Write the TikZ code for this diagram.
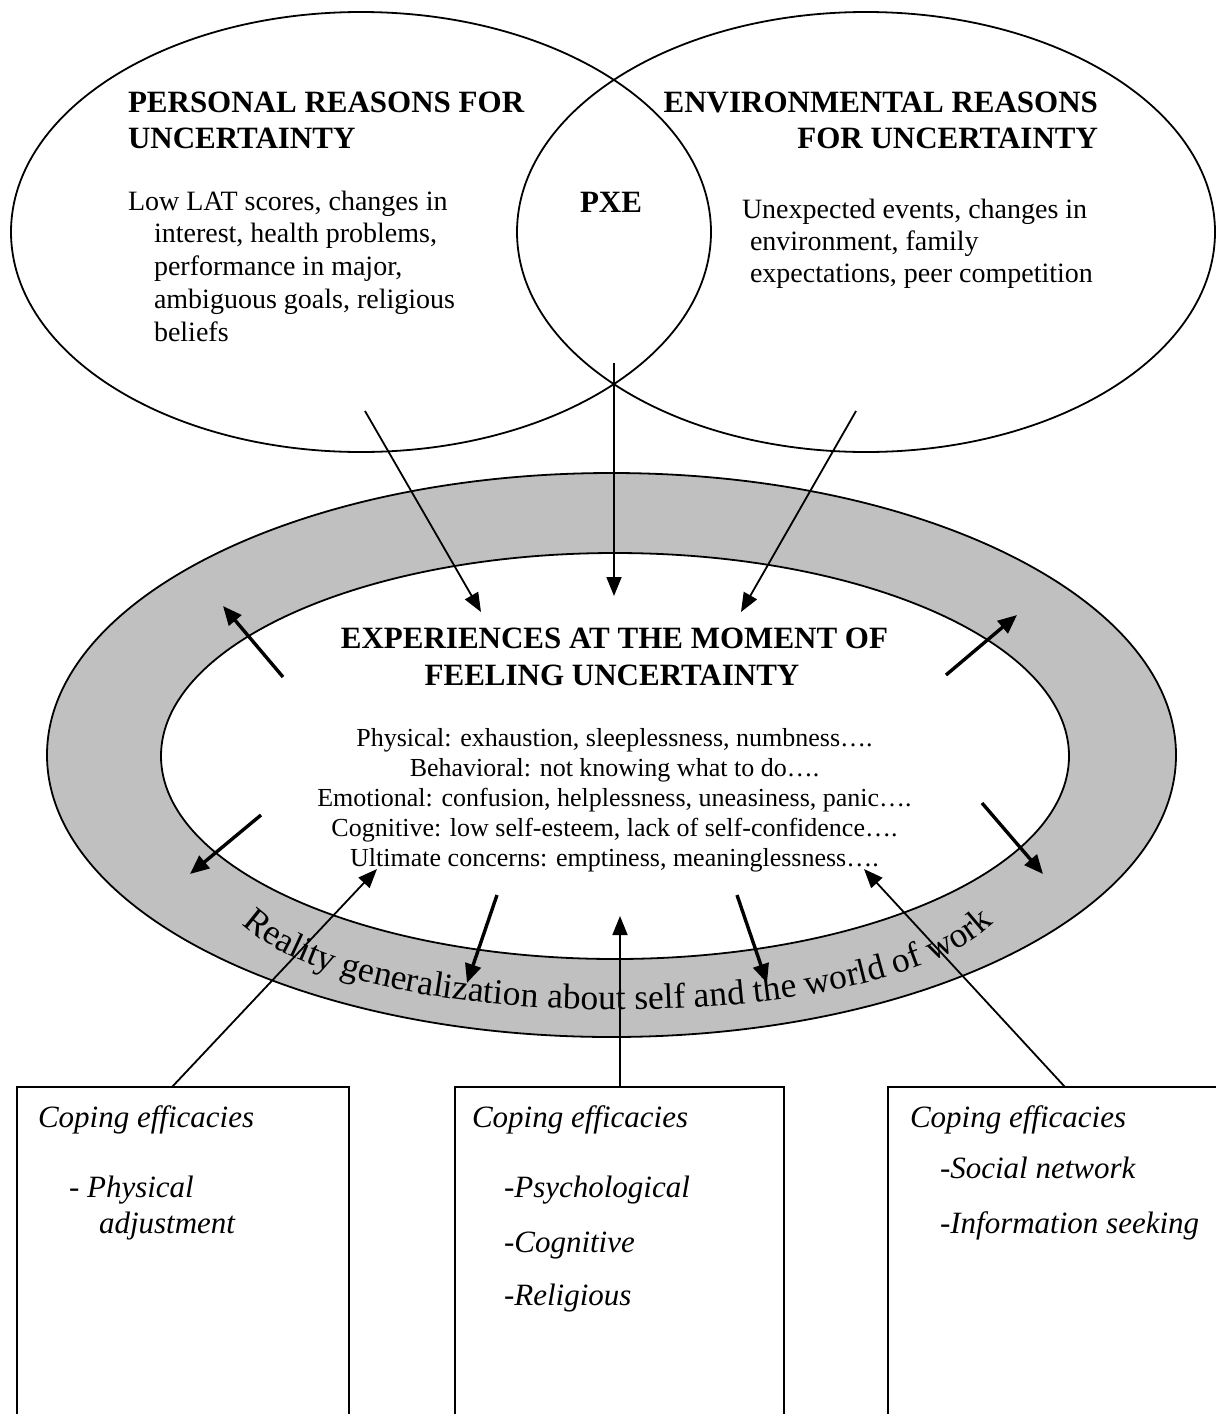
\documentclass[tikz,border=0pt]{standalone}
\usepackage{fontspec}
\setmainfont{Liberation Serif}
\usetikzlibrary{arrows.meta,decorations.text}
\definecolor{ringgray}{RGB}{192,192,192}
\newcommand\ttlfont{\fontsize{31}{35}\selectfont\bfseries}
\newcommand\bodyfont{\fontsize{28}{32}\selectfont}
\newcommand\cbodyfont{\fontsize{26}{30}\selectfont}
\newcommand\itfont{\fontsize{31}{35}\selectfont\itshape}
\newcommand\curvefont{\fontsize{35.5}{35.5}\selectfont}
\begin{document}
\begin{tikzpicture}[x=1pt,y=-1pt,
  txt/.style={inner sep=0pt,outer sep=0pt},
  outl/.style={line width=1.8pt},
  arr/.style={-{Triangle[length=19pt,width=15pt]},line width=1.8pt},
  thickarr/.style={-{Triangle[length=19pt,width=16pt]},line width=3.4pt},
  boxline/.style={line width=1.8pt}]
\useasboundingbox (0,0) rectangle (1216,1414);
\clip (0,0) rectangle (1216,1414);

% ring
\fill[ringgray,even odd rule] (611.5,755) ellipse [x radius=564.5pt,y radius=282pt]
  (615,756) ellipse [x radius=454pt,y radius=203pt];
\draw[outl] (611.5,755) ellipse [x radius=564.5pt,y radius=282pt];
\draw[outl] (615,756) ellipse [x radius=454pt,y radius=203pt];

% curved text
\coordinate (cs) at (243,925);
\coordinate (c1) at (363,1038);
\coordinate (c2) at (872,1038);
\coordinate (ce) at (992,925);
\path[decorate,decoration={text along path,text align=center,
  text={|\curvefont|Reality generalization about self and the world of work}}]
  (cs) .. controls (c1) and (c2) .. (ce);

% top ellipses
\draw[outl] (361,232) ellipse [x radius=350pt,y radius=220pt];
\draw[outl] (866,232) ellipse [x radius=349pt,y radius=220pt];

% left ellipse text
\node[txt,anchor=base west] (pt1) at (128,112) {\ttlfont PERSONAL REASONS FOR};
\node[txt,anchor=base west] (pt2) at (128,148) {\ttlfont UNCERTAINTY};
\node[txt,anchor=base west] (pb1) at (128,210) {\bodyfont Low LAT scores, changes in};
\node[txt,anchor=base west] (pb2) at (154,242) {\bodyfont interest, health problems,};
\node[txt,anchor=base west] (pb3) at (154,275) {\bodyfont performance in major,};
\node[txt,anchor=base west] (pb4) at (154,308) {\bodyfont ambiguous goals, religious};
\node[txt,anchor=base west] (pb5) at (154,341) {\bodyfont beliefs};

% PXE
\node[txt,anchor=base west] (pxe) at (580,212) {\ttlfont PXE};

% right ellipse text
\node[txt,anchor=base east] (et1) at (1098,112) {\ttlfont ENVIRONMENTAL REASONS};
\node[txt,anchor=base east] (et2) at (1098,148) {\ttlfont FOR UNCERTAINTY};
\node[txt,anchor=base west] (eb1) at (742,218) {\bodyfont Unexpected events, changes in};
\node[txt,anchor=base west] (eb2) at (750,250) {\bodyfont environment, family};
\node[txt,anchor=base west] (eb3) at (750,282) {\bodyfont expectations, peer competition};

% center text
\node[txt,anchor=base] (ct1) at (614.5,648) {\ttlfont EXPERIENCES AT THE MOMENT OF};
\node[txt,anchor=base] (ct2) at (612,685) {\ttlfont FEELING UNCERTAINTY};
\node[txt,anchor=base] (cb1) at (614.5,746) {\cbodyfont Physical: exhaustion, sleeplessness, numbness….};
\node[txt,anchor=base] (cb2) at (614.5,776) {\cbodyfont Behavioral: not knowing what to do….};
\node[txt,anchor=base] (cb3) at (614.5,806) {\cbodyfont Emotional: confusion, helplessness, uneasiness, panic….};
\node[txt,anchor=base] (cb4) at (614.5,836) {\cbodyfont Cognitive: low self-esteem, lack of self-confidence….};
\node[txt,anchor=base] (cb5) at (614.5,866) {\cbodyfont Ultimate concerns: emptiness, meaninglessness….};

% boxes
\draw[boxline] (17,1414) -- (17,1087) -- (349,1087) -- (349,1414);
\draw[boxline] (455,1414) -- (455,1087) -- (784,1087) -- (784,1414);
\draw[boxline] (888,1414) -- (888,1087) -- (1216,1087);

\node[txt,anchor=base west] (l1) at (38,1127) {\itfont Coping efficacies};
\node[txt,anchor=base west] (l2) at (69,1197) {\itfont - Physical};
\node[txt,anchor=base west] (l3) at (99,1233) {\itfont adjustment};
\node[txt,anchor=base west] (m1) at (472,1127) {\itfont Coping efficacies};
\node[txt,anchor=base west] (m2) at (504,1197) {\itfont -Psychological};
\node[txt,anchor=base west] (m3) at (504,1252) {\itfont -Cognitive};
\node[txt,anchor=base west] (m4) at (504,1305) {\itfont -Religious};
\node[txt,anchor=base west] (r1) at (910,1127) {\itfont Coping efficacies};
\node[txt,anchor=base west] (r2) at (940,1178) {\itfont -Social network};
\node[txt,anchor=base west] (r3) at (940,1233) {\itfont -Information seeking};

% arrow end points
\coordinate (a1s) at (365,411);  \coordinate (a1e) at (481,612);
\coordinate (a2s) at (614,363);  \coordinate (a2e) at (614,596);
\coordinate (a3s) at (856,411);  \coordinate (a3e) at (741,612);
\coordinate (o1s) at (283,677);  \coordinate (o1e) at (223,606);
\coordinate (o2s) at (946,675);  \coordinate (o2e) at (1017,615);
\coordinate (o3s) at (261,815);  \coordinate (o3e) at (190,874);
\coordinate (o4s) at (982,803);  \coordinate (o4e) at (1043,874);
\coordinate (d1s) at (497,895);  \coordinate (d1e) at (467,983);
\coordinate (d2s) at (737,895);  \coordinate (d2e) at (767,983);
\coordinate (b1t) at (172,1087); \coordinate (u1e) at (377,869);
\coordinate (b2t) at (620,1087); \coordinate (u2e) at (620,916);
\coordinate (b3t) at (1065,1087);\coordinate (u3e) at (864,869);

\draw[arr] (a1s) -- (a1e);
\draw[arr] (a2s) -- (a2e);
\draw[arr] (a3s) -- (a3e);
\draw[thickarr] (o1s) -- (o1e);
\draw[thickarr] (o2s) -- (o2e);
\draw[thickarr] (o3s) -- (o3e);
\draw[thickarr] (o4s) -- (o4e);
\draw[thickarr] (d1s) -- (d1e);
\draw[thickarr] (d2s) -- (d2e);
\draw[arr] (b1t) -- (u1e);
\draw[arr] (b2t) -- (u2e);
\draw[arr] (b3t) -- (u3e);
\end{tikzpicture}
\end{document}
